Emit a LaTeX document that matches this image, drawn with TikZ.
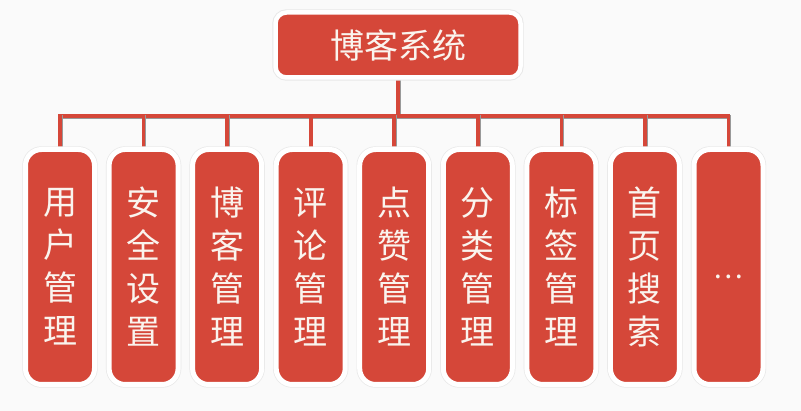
\documentclass[tikz,border=0pt]{standalone}
\usepackage{fontspec}
\setmainfont{Noto Sans CJK SC}
\usetikzlibrary{shadows,backgrounds}
\definecolor{boxred}{RGB}{213,71,57}
\definecolor{bgcol}{RGB}{250,250,250}
\definecolor{txtcol}{RGB}{250,244,238}
\begin{document}
\begin{tikzpicture}[x=1pt,y=-1pt,
  shadowed/.style={drop shadow={shadow xshift=0.6pt,shadow yshift=-2.2pt,opacity=0.2,fill=black},
    preaction={draw=black!9,line width=6.4pt}},
  topbox/.style={shadowed,fill=boxred,draw=white,line width=4.5pt,rounded corners=11pt,
    minimum width=245pt,minimum height=65pt,inner sep=0pt,text=txtcol,
    font=\fontsize{34}{40}\selectfont},
  itembox/.style={shadowed,fill=boxred,draw=white,line width=5pt,rounded corners=16pt,
    minimum width=69pt,minimum height=235pt,inner sep=0pt,text=txtcol,align=center,
    font=\fontsize{34}{43}\selectfont},
  conn/.style={draw=boxred,line width=3.6pt,line cap=rect,
    preaction={draw=black!40,line width=3.6pt,line cap=rect,transform canvas={shift={(0.9pt,-1pt)}}}}
]
\useasboundingbox (0,0) rectangle (801,411);
\node[topbox] (top) at (398,45) {博客系统};
\node[itembox] (b1) at (60,267)    {用\\户\\管\\理};
\node[itembox] (b2) at (143.6,267) {安\\全\\设\\置};
\node[itembox] (b3) at (227.1,267) {博\\客\\管\\理};
\node[itembox] (b4) at (310.7,267) {评\\论\\管\\理};
\node[itembox] (b5) at (394.2,267) {点\\赞\\管\\理};
\node[itembox] (b6) at (477.8,267) {分\\类\\管\\理};
\node[itembox] (b7) at (561.4,267) {标\\签\\管\\理};
\node[itembox] (b8) at (644.9,267) {首\\页\\搜\\索};
\node[itembox] (b9) at (728.5,267) {};
\node[text=txtcol,font=\fontsize{28}{32}\selectfont,inner sep=0pt] (dots) at (728.5,277) {…};
\coordinate (bus) at (0,116);
\begin{pgfonlayer}{background}
\fill[bgcol] (0,0) rectangle (801,411);
\draw[conn] (top.south) -- (top.south |- bus);
\draw[conn] (b1.north |- bus) -- (b9.north |- bus);
\foreach \i in {1,...,9} \draw[conn] (b\i.north |- bus) -- (b\i.north);
\end{pgfonlayer}
\end{tikzpicture}
\end{document}
